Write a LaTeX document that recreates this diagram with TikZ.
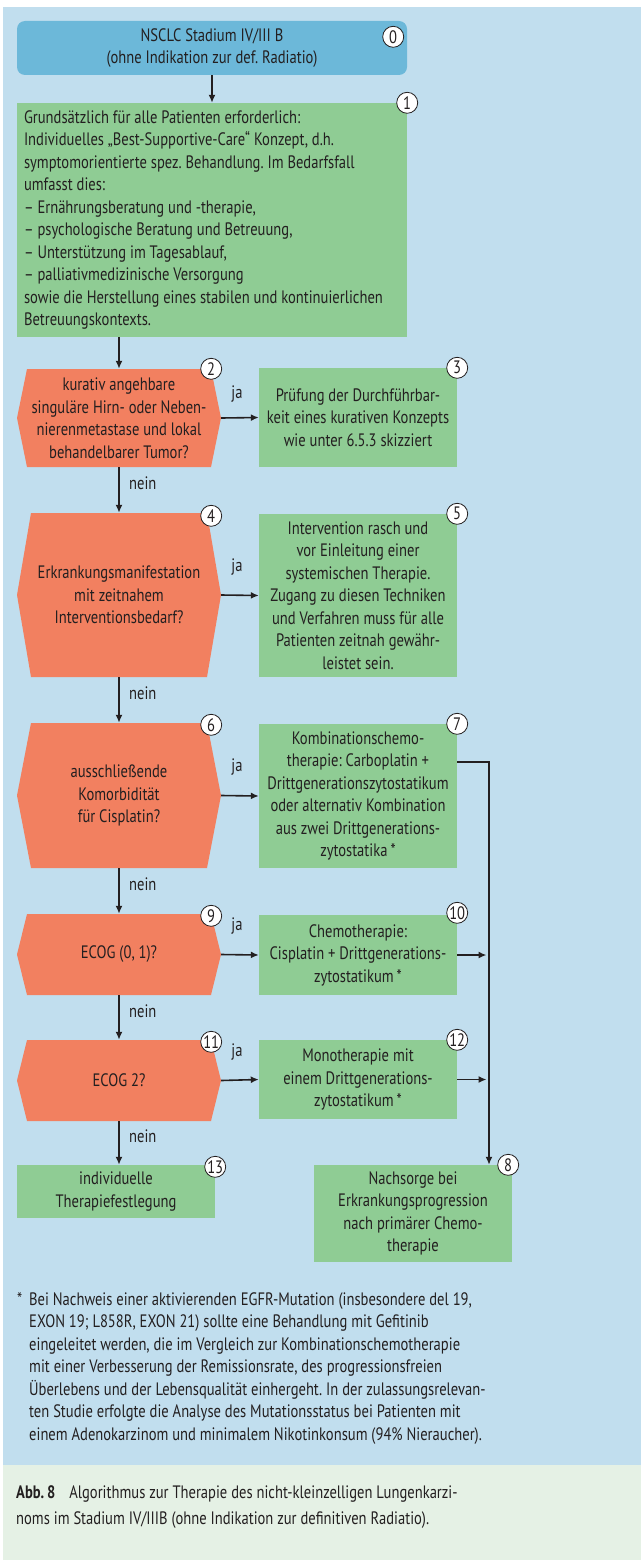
\documentclass[tikz,border=0pt]{standalone}
\usepackage{fontspec}
\setmainfont{PT Sans}[FakeStretch=0.81]
\usepackage{tikz}
\usetikzlibrary{positioning,arrows.meta}
\frenchspacing
\definecolor{pagebg}{RGB}{193,222,238}
\definecolor{capbg}{RGB}{229,241,229}
\definecolor{startblue}{RGB}{108,184,217}
\definecolor{boxgreen}{RGB}{143,204,148}
\definecolor{hexred}{RGB}{242,128,96}
\definecolor{ink}{RGB}{35,31,32}
\newcommand{\flowfont}{\fontsize{18}{22.5}\selectfont}
\tikzset{>={Latex[length=8pt,width=7pt]},
  flow/.style={draw=none, rectangle, inner sep=2pt, align=center, font=\flowfont, text=ink},
  startbox/.style={flow, fill=startblue, rounded corners=8pt},
  greenbox/.style={flow, fill=boxgreen},
  hexbox/.style={flow, path picture={
    \fill[hexred] ([xshift=#1pt]path picture bounding box.north west)
      -- ([xshift=-#1pt]path picture bounding box.north east)
      -- (path picture bounding box.east)
      -- ([xshift=-#1pt]path picture bounding box.south east)
      -- ([xshift=#1pt]path picture bounding box.south west)
      -- (path picture bounding box.west) -- cycle;}},
  hexbox/.default=10,
  badge/.style={circle, draw=ink, line width=0.8pt, fill=white, inner sep=0pt,
    minimum size=21pt, font=\fontsize{18}{18}\selectfont, text=ink},
  link/.style={->, line width=1.6pt, draw=ink},
  yes/.style={font=\flowfont, text=ink, anchor=base, pos=0.42, yshift=24pt},
  no/.style={font=\flowfont, text=ink, anchor=west, pos=0.35, xshift=6pt},
  fnote/.style={font=\flowfont, text=ink, inner sep=0pt, align=left}}

\begin{document}
\begin{tikzpicture}[x=1pt,y=-1pt]
  \useasboundingbox (0,0) rectangle (641,1560);
  % page and caption panels
  \fill[pagebg] (3,7) rectangle (641,1465);
  \fill[capbg] (3,1465) rectangle (641,1560);

  % left column
  \node[startbox, minimum width=390, minimum height=54] (b0) at (212,48)
    {NSCLC Stadium IV/III B\\(ohne Indikation zur def. Radiatio)};
  \node[greenbox, align=flush left, text width=376, inner xsep=7pt, minimum height=234] (b1) at (212,220)
    {Grundsätzlich für alle Patienten erforderlich:\\
     Individuelles „Best-Supportive-Care“ Konzept, d.h.\\
     symptomorientierte spez. Behandlung. Im Bedarfsfall\\
     umfasst dies:\\
     – Ernährungsberatung und -therapie,\\
     – psychologische Beratung und Betreuung,\\
     – Unterstützung im Tagesablauf,\\
     – palliativmedizinische Versorgung\\
     sowie die Herstellung eines stabilen und kontinuierlichen\\
     Betreuungskontexts.};
  \node[hexbox, minimum width=204, minimum height=98] (h2) at (119,418)
    {kurativ angehbare\\singuläre Hirn- oder Neben-\\nierenmetastase und lokal\\behandelbarer Tumor?};
  \node[hexbox=14, minimum width=204, minimum height=164] (h4) at (119,595)
    {Erkrankungsmanifestation\\mit zeitnahem\\Interventionsbedarf?};
  \node[hexbox=14, minimum width=204, minimum height=145] (h6) at (119,795.5)
    {ausschließende\\Komorbidität\\für Cisplatin?};
  \node[hexbox, minimum width=204, minimum height=81] (h9) at (119,954.5) {ECOG (0, 1)?};
  \node[hexbox, minimum width=204, minimum height=81] (h11) at (119,1080.5) {ECOG 2?};
  \node[greenbox, minimum width=198, minimum height=53] (b13) at (116,1191.5)
    {individuelle\\Therapiefestlegung};

  % right column
  \node[greenbox, minimum width=198, minimum height=99] (b3) at (358,417.5)
    {Prüfung der Durchführbar-\\keit eines kurativen Konzepts\\wie unter 6.5.3 skizziert};
  \node[greenbox, minimum width=198, minimum height=163] (b5) at (358,595.5)
    {Intervention rasch und\\vor Einleitung einer\\systemischen Therapie.\\Zugang zu diesen Techniken\\und Verfahren muss für alle\\Patienten zeitnah gewähr-\\leistet sein.};
  \node[greenbox, minimum width=198, minimum height=144] (b7) at (358,796)
    {Kombinationschemo-\\therapie: Carboplatin +\\Drittgenerationszytostatikum\\oder alternativ Kombination\\aus zwei Drittgenerations-\\zytostatika\,*};
  \node[greenbox, minimum width=198, minimum height=80] (b10) at (358,955)
    {Chemotherapie:\\Cisplatin + Drittgenerations-\\zytostatikum\,*};
  \node[greenbox, minimum width=198, minimum height=79] (b12) at (358,1079.5)
    {Monotherapie mit\\einem Drittgenerations-\\zytostatikum\,*};
  \node[greenbox, minimum width=198, minimum height=97] (b8) at (413,1213.5)
    {Nachsorge bei\\Erkrankungsprogression\\nach primärer Chemo-\\therapie};
  \coordinate (rail) at (489,762);

  % numbers
  \node[badge] (n0) at ([xshift=-14pt,yshift=-16pt]b0.north east) {0};
  \node[badge] (n1) at (b1.north east) {1};
  \node[badge] (n2) at ([xshift=-10pt]h2.north east) {2};
  \node[badge] (n3) at (b3.north east) {3};
  \node[badge] (n4) at ([xshift=-10pt,yshift=-3pt]h4.north east) {4};
  \node[badge] (n5) at (b5.north east) {5};
  \node[badge] (n6) at ([xshift=-10pt,yshift=-2pt]h6.north east) {6};
  \node[badge] (n7) at (b7.north east) {7};
  \node[badge] (n9) at ([xshift=-10pt,yshift=-2pt]h9.north east) {9};
  \node[badge] (n10) at ([yshift=2pt]b10.north east) {10};
  \node[badge] (n11) at ([xshift=-10pt,yshift=-2pt]h11.north east) {11};
  \node[badge] (n12) at (b12.north east) {12};
  \node[badge] (n13) at ([yshift=-2pt]b13.north east) {13};
  \node[badge] (n8) at ([xshift=-4pt]b8.north east) {8};

  % connectors
  \draw[link] (b0.south) -- (b1.north);
  \draw[link] (b1.south -| h2.north) -- (h2.north);
  \draw[link] (h2.south) -- node[no] {nein} (h4.north);
  \draw[link] (h4.south) -- node[no] {nein} (h6.north);
  \draw[link] (h6.south) -- node[no] {nein} (h9.north);
  \draw[link] (h9.south) -- node[no] {nein} (h11.north);
  \draw[link] (h11.south) -- node[no] {nein} (h11.south |- b13.north);
  \draw[link] (h2.east) -- node[yes, yshift=-5pt] {ja} (b3.west);
  \draw[link] (h4.east) -- node[yes] {ja} (b5.west);
  \draw[link] (h6.east) -- node[yes] {ja} (b7.west);
  \draw[link] (h9.east) -- node[yes] {ja} (b10.west);
  \draw[link] (h11.east) -- node[yes] {ja} (b12.west);
  \draw[link] ([yshift=34pt]b7.east) -| (rail |- b8.north);
  \draw[link, shorten >=2.5pt] (b10.east) -- (b10.east -| rail);
  \draw[link, shorten >=2.5pt] (b12.east) -- (b12.east -| rail);

  % footnote and caption
  \node[fnote, anchor=north west] (fnstar) at (17,1292) {*};
  \node[fnote, anchor=north west] (fntext) at (29,1292)
    {Bei Nachweis einer aktivierenden EGFR-Mutation (insbesondere del 19,\\
     EXON 19; L858R, EXON 21) sollte eine Behandlung mit Gefitinib\\
     eingeleitet werden, die im Vergleich zur Kombinationschemotherapie\\
     mit einer Verbesserung der Remissionsrate, des progressionsfreien\\
     Überlebens und der Lebensqualität einhergeht. In der zulassungsrelevan-\\
     ten Studie erfolgte die Analyse des Mutationsstatus bei Patienten mit\\
     einem Adenokarzinom und minimalem Nikotinkonsum (94\% Nieraucher).};
  \node[fnote, anchor=north west, font=\fontsize{18}{26}\selectfont] (cap) at (16,1485)
    {\textbf{Abb.\,8}\hspace{14pt}Algorithmus zur Therapie des nicht-kleinzelligen Lungenkarzi-\\
     noms im Stadium IV/IIIB (ohne Indikation zur definitiven Radiatio).};
\end{tikzpicture}
\end{document}
